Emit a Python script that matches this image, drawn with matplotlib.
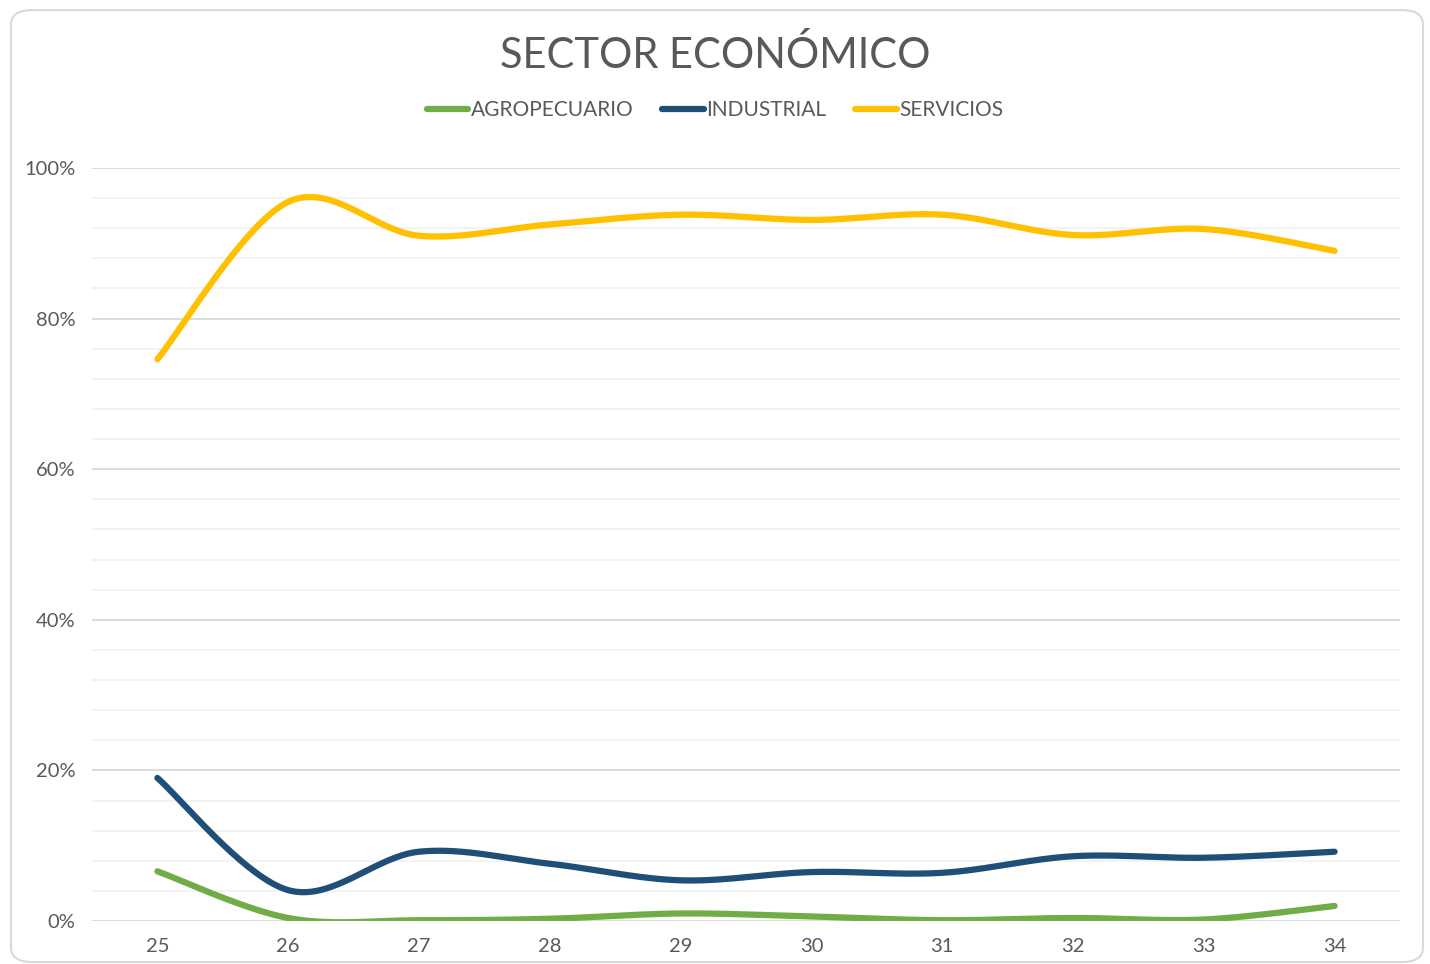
import numpy as np
import matplotlib.pyplot as plt
from matplotlib.patches import FancyBboxPatch
from matplotlib.ticker import MultipleLocator, PercentFormatter

edades = ['25', '26', '27', '28', '29', '30', '31', '32', '33', '34']
agropecuario = [0.066, 0.004, 0.001, 0.003, 0.010, 0.006, 0.001, 0.004, 0.002, 0.020]
industrial = [0.190, 0.041, 0.092, 0.076, 0.054, 0.065, 0.064, 0.086, 0.084, 0.092]
servicios = [0.746, 0.955, 0.910, 0.925, 0.938, 0.931, 0.938, 0.911, 0.919, 0.890]

series = [('AGROPECUARIO', agropecuario, '#70AD47'),
          ('INDUSTRIAL', industrial, '#1F4E79'),
          ('SERVICIOS', servicios, '#FFC000')]

texto = '#595959'
plt.rcParams['font.family'] = ['Lato', 'DejaVu Sans']


def suavizar(x, y, n=40):
    # curva tipo Excel: bezier con puntos de control de Catmull-Rom
    x = np.asarray(x, float)
    y = np.asarray(y, float)
    px = np.concatenate([[x[0]], x, [x[-1]]])
    py = np.concatenate([[y[0]], y, [y[-1]]])
    xs, ys = [], []
    t = np.linspace(0, 1, n)
    for i in range(1, len(px) - 2):
        p0 = np.array([px[i], py[i]])
        p3 = np.array([px[i + 1], py[i + 1]])
        c1 = p0 + (np.array([px[i + 1], py[i + 1]]) - np.array([px[i - 1], py[i - 1]])) / 6
        c2 = p3 - (np.array([px[i + 2], py[i + 2]]) - np.array([px[i], py[i]])) / 6
        b = ((1 - t) ** 3)[:, None] * p0 + (3 * (1 - t) ** 2 * t)[:, None] * c1 \
            + (3 * (1 - t) * t ** 2)[:, None] * c2 + (t ** 3)[:, None] * p3
        xs.extend(b[:, 0])
        ys.extend(b[:, 1])
    return np.array(xs), np.array(ys)


fig = plt.figure(figsize=(14.3, 9.64), dpi=100)
fig.patches.append(FancyBboxPatch((11 / 1430, 0.002), 1412 / 1430, 1 - 12 / 964,
                                  boxstyle='round,pad=0,rounding_size=0.015',
                                  transform=fig.transFigure, facecolor='none',
                                  edgecolor='#D9D9D9', linewidth=1.5, zorder=-1))
ax = fig.add_axes([92 / 1430, 1 - 921 / 964, 1308 / 1430, 753 / 964])
ax.set_facecolor('none')

xi = np.arange(len(edades))
handles = []
for nombre, vals, color in series:
    sx, sy = suavizar(xi, vals)
    h, = ax.plot(sx, sy, color=color, lw=4.5, solid_capstyle='round', label=nombre, zorder=3)
    handles.append(h)

ax.set_xlim(-0.5, len(edades) - 0.5)
ax.set_ylim(0, 1)
ax.set_xticks(xi)
ax.set_xticklabels(edades)
ax.yaxis.set_major_locator(MultipleLocator(0.2))
ax.yaxis.set_minor_locator(MultipleLocator(0.04))
ax.yaxis.set_major_formatter(PercentFormatter(1.0, decimals=0))
ax.grid(axis='y', which='major', color='#D9D9D9', lw=1.3)
ax.grid(axis='y', which='minor', color='#F2F2F2', lw=1.3)
ax.tick_params(axis='both', which='both', length=0, labelsize=14.5, labelcolor=texto)
ax.tick_params(axis='y', pad=12)
ax.tick_params(axis='x', pad=12)
for s in ax.spines.values():
    s.set_visible(False)

fig.text(0.5, 1 - 55 / 964, 'SECTOR ECONÓMICO', ha='center', va='center',
         fontsize=30, color=texto)
fig.legend(handles=handles, loc='center', bbox_to_anchor=(0.5, 1 - 110 / 964), ncol=3,
           frameon=False, fontsize=15, labelcolor=texto, handlelength=2.0,
           handletextpad=0.1, columnspacing=1.4)

plt.savefig('out.png', dpi=100)
